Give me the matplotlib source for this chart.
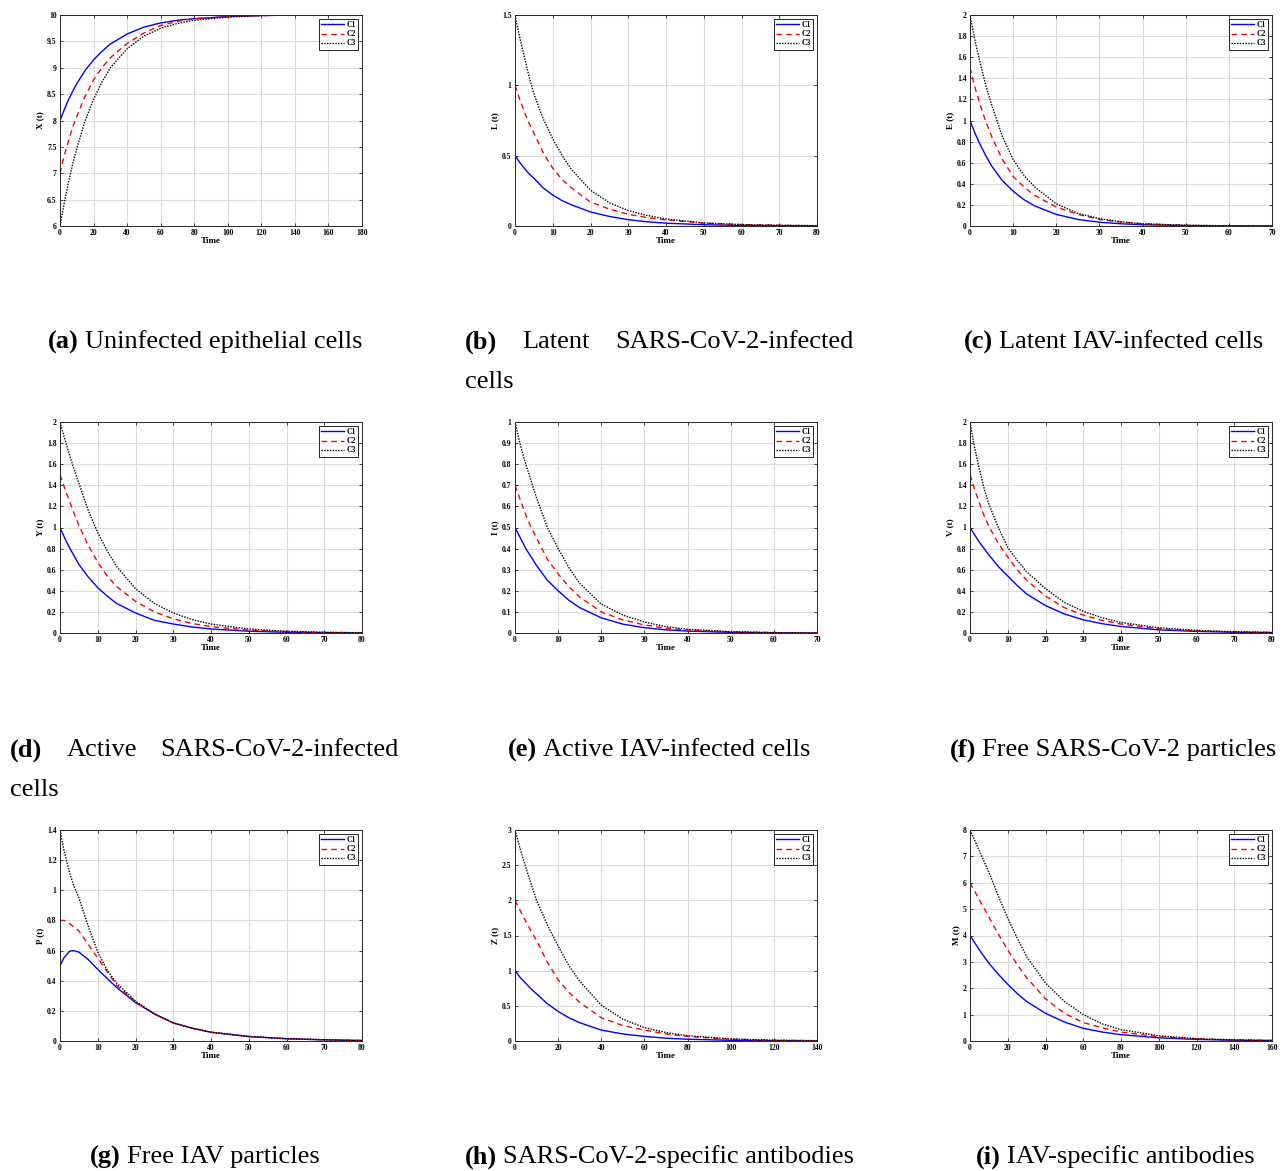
import numpy as np
import matplotlib
matplotlib.use('Agg')
import matplotlib.pyplot as plt
from matplotlib.ticker import FormatStrFormatter

plt.rcParams['font.family'] = ['Liberation Serif', 'DejaVu Serif']

# ===========================================================
# values

# (a) uninfected epithelial cells X(t)
t_a = [0, 1.25, 2.5, 5, 7.5, 10, 15, 20, 25, 30, 40, 50, 60, 70, 80, 100, 120, 140, 160, 180]
X_c1 = [8.0, 8.10, 8.2, 8.39, 8.55, 8.70, 8.95, 9.15, 9.31, 9.45, 9.64, 9.77, 9.85, 9.9, 9.93, 9.97, 9.99, 10.0, 10.0, 10.0]
X_c2 = [7.0, 7.17, 7.33, 7.61, 7.87, 8.08, 8.46, 8.77, 9.0, 9.19, 9.46, 9.66, 9.8, 9.88, 9.93, 9.97, 9.99, 10.0, 10.0, 10.0]
X_c3 = [6.0, 6.22, 6.43, 6.82, 7.17, 7.47, 8.0, 8.4, 8.73, 9.0, 9.36, 9.6, 9.75, 9.84, 9.9, 9.96, 9.99, 10.0, 10.0, 10.0]

# (b) latent SARS-CoV-2-infected cells L(t)
t_b = [0, 1.25, 2.5, 3.75, 5, 7.5, 10, 12.5, 15, 20, 25, 30, 35, 40, 50, 60, 70, 80]
L_c1 = [0.5, 0.452, 0.41, 0.37, 0.34, 0.27, 0.22, 0.18, 0.15, 0.10, 0.068, 0.045, 0.03, 0.02, 0.009, 0.004, 0.002, 0.001]
L_c2 = [1.0, 0.9, 0.81, 0.73, 0.66, 0.52, 0.41, 0.33, 0.27, 0.17, 0.12, 0.083, 0.06, 0.043, 0.02, 0.01, 0.005, 0.002]
L_c3 = [1.5, 1.34, 1.2, 1.06, 0.94, 0.76, 0.62, 0.5, 0.40, 0.255, 0.165, 0.11, 0.075, 0.05, 0.022, 0.01, 0.005, 0.002]

# (c) latent IAV-infected cells E(t)
t_c = [0, 1.25, 2.5, 3.75, 5, 7.5, 10, 12.5, 15, 20, 25, 30, 35, 40, 50, 60, 70]
E_c1 = [1.0, 0.87, 0.76, 0.66, 0.57, 0.43, 0.33, 0.25, 0.19, 0.11, 0.062, 0.036, 0.021, 0.012, 0.004, 0.001, 0.0]
E_c2 = [1.5, 1.3, 1.13, 0.98, 0.85, 0.63, 0.47, 0.37, 0.29, 0.18, 0.11, 0.063, 0.036, 0.02, 0.006, 0.002, 0.0]
E_c3 = [2.0, 1.74, 1.52, 1.32, 1.15, 0.85, 0.63, 0.48, 0.37, 0.21, 0.12, 0.07, 0.04, 0.022, 0.007, 0.002, 0.0]

# (d) active SARS-CoV-2-infected cells Y(t)
t_d = [0, 1.25, 2.5, 3.75, 5, 7.5, 10, 12.5, 15, 20, 25, 30, 35, 40, 50, 60, 70, 80]
Y_c1 = [1.0, 0.90, 0.81, 0.73, 0.65, 0.53, 0.43, 0.35, 0.28, 0.19, 0.12, 0.085, 0.057, 0.038, 0.017, 0.007, 0.003, 0.001]
Y_c2 = [1.5, 1.37, 1.25, 1.13, 1.02, 0.83, 0.67, 0.54, 0.44, 0.30, 0.20, 0.135, 0.09, 0.06, 0.027, 0.012, 0.005, 0.002]
Y_c3 = [2.0, 1.84, 1.69, 1.55, 1.42, 1.16, 0.95, 0.78, 0.63, 0.42, 0.28, 0.19, 0.127, 0.085, 0.038, 0.017, 0.007, 0.003]

# (e) active IAV-infected cells I(t)
t_e = [0, 1.25, 2.5, 3.75, 5, 7.5, 10, 12.5, 15, 20, 25, 30, 35, 40, 50, 60, 70]
I_c1 = [0.5, 0.45, 0.40, 0.36, 0.32, 0.25, 0.20, 0.155, 0.12, 0.072, 0.042, 0.025, 0.015, 0.009, 0.003, 0.001, 0.0]
I_c2 = [0.7, 0.63, 0.56, 0.50, 0.45, 0.35, 0.28, 0.22, 0.17, 0.10, 0.062, 0.038, 0.023, 0.014, 0.005, 0.002, 0.0]
I_c3 = [1.0, 0.89, 0.80, 0.72, 0.64, 0.50, 0.40, 0.31, 0.235, 0.137, 0.085, 0.052, 0.03, 0.018, 0.006, 0.002, 0.0]

# (f) free SARS-CoV-2 particles V(t)
t_f = [0, 1.25, 2.5, 3.75, 5, 7.5, 10, 12.5, 15, 20, 25, 30, 35, 40, 50, 60, 70, 80]
V_c1 = [1.0, 0.93, 0.86, 0.80, 0.74, 0.63, 0.54, 0.45, 0.37, 0.26, 0.18, 0.125, 0.088, 0.062, 0.03, 0.015, 0.007, 0.003]
V_c2 = [1.5, 1.36, 1.23, 1.11, 1.01, 0.85, 0.72, 0.60, 0.50, 0.35, 0.24, 0.17, 0.12, 0.085, 0.04, 0.02, 0.01, 0.005]
V_c3 = [2.0, 1.75, 1.55, 1.37, 1.22, 1.0, 0.81, 0.69, 0.58, 0.42, 0.29, 0.205, 0.145, 0.10, 0.05, 0.025, 0.012, 0.006]

# (g) free IAV particles P(t)
t_g = [0, 1, 2.5, 3.5, 5, 7.5, 10, 12.5, 15, 20, 25, 30, 35, 40, 50, 60, 70, 80]
P_c1 = [0.5, 0.55, 0.595, 0.60, 0.59, 0.54, 0.475, 0.415, 0.355, 0.255, 0.18, 0.12, 0.085, 0.058, 0.03, 0.015, 0.008, 0.003]
P_c2 = [0.8, 0.80, 0.78, 0.76, 0.73, 0.64, 0.55, 0.46, 0.37, 0.26, 0.18, 0.12, 0.085, 0.058, 0.03, 0.015, 0.008, 0.003]
P_c3 = [1.4, 1.27, 1.12, 1.04, 0.95, 0.76, 0.59, 0.47, 0.385, 0.265, 0.18, 0.12, 0.085, 0.058, 0.03, 0.015, 0.008, 0.003]

# (h) SARS-CoV-2-specific antibodies Z(t)
t_h = [0, 2.5, 5, 7.5, 10, 15, 20, 25, 30, 40, 50, 60, 70, 80, 100, 120, 140]
Z_c1 = [1.0, 0.9, 0.82, 0.74, 0.67, 0.53, 0.42, 0.33, 0.26, 0.155, 0.10, 0.065, 0.04, 0.025, 0.01, 0.004, 0.002]
Z_c2 = [2.0, 1.85, 1.70, 1.56, 1.43, 1.12, 0.87, 0.69, 0.55, 0.33, 0.22, 0.155, 0.1, 0.065, 0.025, 0.01, 0.004]
Z_c3 = [3.0, 2.72, 2.47, 2.23, 2.0, 1.65, 1.35, 1.07, 0.85, 0.51, 0.31, 0.19, 0.12, 0.075, 0.03, 0.012, 0.005]

# (i) IAV-specific antibodies M(t)
t_i = [0, 5, 10, 15, 20, 25, 30, 40, 50, 60, 70, 80, 100, 120, 140, 160]
M_c1 = [4.0, 3.45, 2.95, 2.53, 2.15, 1.8, 1.5, 1.05, 0.72, 0.48, 0.34, 0.24, 0.12, 0.06, 0.03, 0.015]
M_c2 = [6.0, 5.35, 4.7, 4.05, 3.45, 2.9, 2.4, 1.6, 1.05, 0.7, 0.5, 0.34, 0.16, 0.08, 0.04, 0.02]
M_c3 = [8.0, 7.2, 6.4, 5.5, 4.65, 3.9, 3.2, 2.2, 1.5, 1.0, 0.65, 0.43, 0.2, 0.09, 0.04, 0.02]

ylabels = ['X (t)', 'L (t)', 'E (t)', 'Y (t)', 'I (t)', 'V (t)', 'P (t)', 'Z (t)', 'M (t)']
series_names = ['C1', 'C2', 'C3']

# ===========================================================
panels = [
    (t_a, X_c1, X_c2, X_c3, (0, 180, 20), (6, 10, 0.5)),
    (t_b, L_c1, L_c2, L_c3, (0, 80, 10), (0, 1.5, 0.5)),
    (t_c, E_c1, E_c2, E_c3, (0, 70, 10), (0, 2, 0.2)),
    (t_d, Y_c1, Y_c2, Y_c3, (0, 80, 10), (0, 2, 0.2)),
    (t_e, I_c1, I_c2, I_c3, (0, 70, 10), (0, 1, 0.1)),
    (t_f, V_c1, V_c2, V_c3, (0, 80, 10), (0, 2, 0.2)),
    (t_g, P_c1, P_c2, P_c3, (0, 80, 10), (0, 1.4, 0.2)),
    (t_h, Z_c1, Z_c2, Z_c3, (0, 140, 20), (0, 3, 0.5)),
    (t_i, M_c1, M_c2, M_c3, (0, 160, 20), (0, 8, 1)),
]

W, H = 1282, 1171
fig = plt.figure(figsize=(W / 100, H / 100), dpi=100)

col_left = [60, 515, 970]
row_top = [15, 422, 830]
ax_w, ax_h = 302, 211

for k, (t, c1, c2, c3, xr, yr) in enumerate(panels):
    r, c = divmod(k, 3)
    ax = fig.add_axes([col_left[c] / W, 1 - (row_top[r] + ax_h) / H, ax_w / W, ax_h / H])
    ax.plot(t, c1, '-', color='blue', lw=1.0, label=series_names[0])
    ax.plot(t, c2, '--', color='red', lw=1.0, dashes=(4, 3), label=series_names[1])
    ax.plot(t, c3, ':', color='black', lw=1.0, dashes=(1, 1), label=series_names[2])
    ax.set_xlim(xr[0], xr[1])
    ax.set_ylim(yr[0], yr[1])
    ax.set_xticks(np.arange(xr[0], xr[1] + xr[2] / 2, xr[2]))
    ax.set_yticks(np.arange(yr[0], yr[1] + yr[2] / 2, yr[2]))
    ax.yaxis.set_major_formatter(FormatStrFormatter('%g'))
    ax.grid(True, color='#dcdcdc', lw=0.8)
    ax.set_axisbelow(True)
    ax.tick_params(direction='in', top=True, right=True, length=2.5, width=0.6,
                   labelsize=5.5, pad=2.5, color='#262626')
    for lab in ax.get_xticklabels() + ax.get_yticklabels():
        lab.set_fontweight('bold')
    for s in ax.spines.values():
        s.set_linewidth(0.7)
        s.set_color('#262626')
    ax.set_xlabel('Time', fontsize=6.5, fontweight='bold', labelpad=0)
    ax.set_ylabel(ylabels[k], fontsize=6.5, fontweight='bold', labelpad=2)
    leg = ax.legend(loc='upper right', handlelength=3.0, handletextpad=0.3,
                    borderpad=0.3, labelspacing=0.15, fancybox=False, framealpha=1,
                    borderaxespad=0.5, prop={'weight': 'bold', 'size': 5.5})
    leg.get_frame().set_edgecolor('black')
    leg.get_frame().set_linewidth(0.6)

# ===========================================================
# captions under each panel
cap_size = 19
renderer = fig.canvas.get_renderer()


def caption(x_px, y_px, tag, words):
    # bold tag, then the rest in normal weight
    tt = fig.text(x_px / W, 1 - y_px / H, tag, fontsize=cap_size, fontweight='bold',
                  ha='left', va='center')
    bb = tt.get_window_extent(renderer)
    if words:
        fig.text((bb.x1 + 6) / W, 1 - y_px / H, words, fontsize=cap_size,
                 ha='left', va='center')


def plain(x_px, y_px, words):
    fig.text(x_px / W, 1 - y_px / H, words, fontsize=cap_size, ha='left', va='center')


caption(48, 342, '(a)', 'Uninfected epithelial cells')
caption(465, 342, '(b)', '')
plain(522, 342, 'Latent')
plain(615, 342, 'SARS-CoV-2-infected')
plain(465, 382, 'cells')
caption(964, 342, '(c)', 'Latent IAV-infected cells')

caption(10, 750, '(d)', '')
plain(67, 750, 'Active')
plain(160, 750, 'SARS-CoV-2-infected')
plain(10, 790, 'cells')
caption(508, 750, '(e)', 'Active IAV-infected cells')
caption(950, 750, '(f)', 'Free SARS-CoV-2 particles')

caption(90, 1157, '(g)', 'Free IAV particles')
caption(465, 1157, '(h)', 'SARS-CoV-2-specific antibodies')
caption(976, 1157, '(i)', 'IAV-specific antibodies')

fig.savefig('out.png', dpi=100)
